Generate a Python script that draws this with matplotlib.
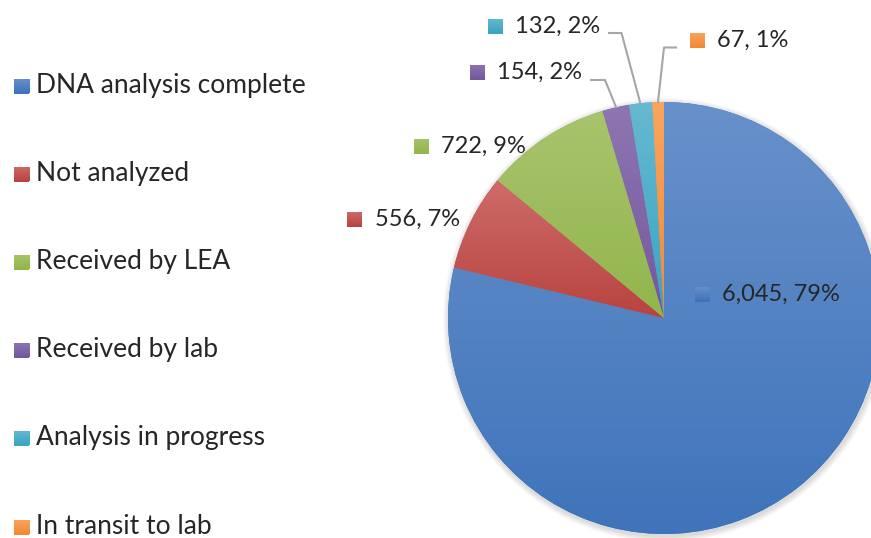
import numpy as np
import matplotlib
matplotlib.use("Agg")
import matplotlib.pyplot as plt
import matplotlib.colors as mcolors
from matplotlib.patches import Rectangle, Circle

categories = ["DNA analysis complete", "Not analyzed", "Received by LEA",
              "Received by lab", "Analysis in progress", "In transit to lab"]
counts = [6045, 556, 722, 154, 132, 67]
percents = [79, 7, 9, 2, 2, 1]

# (top colour, bottom colour) of each slice gradient
grads = [("#6891cb", "#3f74ba"), ("#ce6c69", "#b84340"), ("#a8c46d", "#92b54c"),
         ("#8f76b1", "#74579f"), ("#66b9d1", "#3aa4c1"), ("#f9a560", "#f28934")]

W, H = 871, 538
fig = plt.figure(figsize=(W / 100, H / 100), dpi=100)
ax = fig.add_axes([0, 0, 1, 1])

def Y(y):
    return H - y  # pixel row -> data y

cx, cy, r = 664, Y(318), 216

# soft shadow round the pie
for k in range(6):
    ax.add_patch(Circle((cx + 1, cy - 2), r + 1 + k, color="black",
                        alpha=0.025, lw=0, zorder=0))

wedges, _ = ax.pie(counts, startangle=90, counterclock=False,
                   center=(cx, cy), radius=r, colors=[g[1] for g in grads],
                   wedgeprops=dict(linewidth=0))

def gradient_fill(patch, top, bottom, extent, z):
    cmap = mcolors.LinearSegmentedColormap.from_list("g", [bottom, top])
    grad = np.linspace(0, 1, 256).reshape(-1, 1)
    im = ax.imshow(grad, cmap=cmap, origin="lower", extent=extent,
                   aspect="auto", interpolation="bilinear", zorder=z)
    im.set_clip_path(patch)

for w, (top, bot) in zip(wedges, grads):
    w.set_zorder(1)
    bb = w.get_path().get_extents(w.get_patch_transform())
    gradient_fill(w, top, bot, [bb.x0, bb.x1, bb.y0, bb.y1], 2)

font = "Lato"
tcol = "#262626"

def key(x, y, idx, size=15):
    sq = Rectangle((x - size / 2, Y(y) - size / 2), size, size, lw=0,
                   facecolor=grads[idx][1], zorder=3)
    ax.add_patch(sq)
    gradient_fill(sq, grads[idx][0], grads[idx][1],
                  [x - size / 2, x + size / 2, Y(y) - size / 2, Y(y) + size / 2], 4)

# legend on the left
leg_y = [86, 174, 262, 350, 438, 527]
for i, (name, ly) in enumerate(zip(categories, leg_y)):
    key(21.5, ly, i)
    ax.text(36, Y(ly), name, fontsize=19, family=font, color=tcol,
            va="center", ha="left", zorder=5)

# data labels: (key x, key y)
lab_pos = [(702, 294), (354.5, 219), (421, 146), (477, 72), (495, 26), (697, 40)]
for i, (kx, ky) in enumerate(lab_pos):
    key(kx, ky, i)
    ax.text(kx + 20, Y(ky), f"{counts[i]:,}, {percents[i]}%", fontsize=17,
            family=font, color=tcol, va="center", ha="left", zorder=5)

# leader lines
lc = "#a6a6a6"
ax.plot([591, 605, 616], [Y(80), Y(80), Y(107)], color=lc, lw=1.5, zorder=5)
ax.plot([609, 621.5, 640], [Y(33), Y(33), Y(102)], color=lc, lw=1.5, zorder=5)
ax.plot([676, 664, 658], [Y(47.5), Y(47.5), Y(102)], color=lc, lw=1.5, zorder=5)

ax.set_xlim(0, W)
ax.set_ylim(0, H)
ax.set_aspect("auto")
ax.axis("off")

fig.savefig("out.png", dpi=100)
